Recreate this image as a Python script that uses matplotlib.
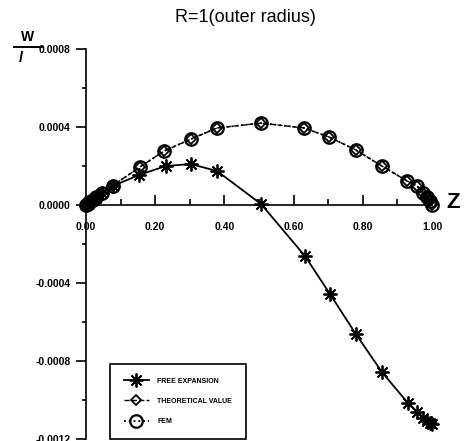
import numpy as np
import matplotlib.pyplot as plt
from matplotlib.lines import Line2D

plt.rcParams['font.family'] = ['Liberation Sans', 'DejaVu Sans']

# free expansion
z_free = [0, 0.005, 0.01, 0.02, 0.03, 0.046, 0.078, 0.153, 0.231, 0.303, 0.379,
          0.506, 0.633, 0.705, 0.780, 0.855, 0.930, 0.957, 0.975, 0.986, 0.993, 1.0]
w_free = [0, 0.000006, 0.000012, 0.000024, 0.000036, 0.000062, 0.0000975, 0.000154,
          0.0002, 0.00021, 0.000174, 0.000005, -0.000262, -0.000456, -0.000662,
          -0.000856, -0.001015, -0.00106, -0.00109, -0.00111, -0.001118, -0.001123]

# theoretical value
z_theory = [0, 0.005, 0.01, 0.02, 0.03, 0.045, 0.078, 0.156, 0.226, 0.303, 0.379,
            0.506, 0.630, 0.702, 0.780, 0.855, 0.928, 0.957, 0.975, 0.985, 0.993, 1.0]
w_theory = [0, 0.000006, 0.000013, 0.000026, 0.00004, 0.00006, 0.0001, 0.000195,
            0.000277, 0.000338, 0.000395, 0.00042, 0.000395, 0.000349, 0.000282,
            0.0002, 0.000123, 0.0000975, 0.00006, 0.00004, 0.00002, 0.0]

# FEM
z_fem = [0, 0.005, 0.01, 0.02, 0.03, 0.045, 0.078, 0.156, 0.226, 0.303, 0.379,
         0.506, 0.630, 0.702, 0.780, 0.855, 0.928, 0.957, 0.975, 0.985, 0.993, 1.0]
w_fem = [0, 0.000006, 0.000013, 0.000026, 0.00004, 0.00006, 0.0001, 0.000195,
         0.000277, 0.000338, 0.000395, 0.00042, 0.000395, 0.000349, 0.000282,
         0.0002, 0.000123, 0.0000975, 0.00006, 0.00004, 0.00002, 0.0]

x_ticks = [0.0, 0.2, 0.4, 0.6, 0.8, 1.0]
x_labels = ['0.00', '0.20', '0.40', '0.60', '0.80', '1.00']
y_ticks = [0.0008, 0.0004, 0.0, -0.0004, -0.0008, -0.0012]
y_labels = ['0.0008', '0.0004', '0.0000', '-0.0004', '-0.0008', '-0.0012']

fig = plt.figure(figsize=(4.65, 4.41), dpi=100)
ax = fig.add_axes([86/465, 1 - 439/441, 346/465, 390/441])

ax.plot(z_free, w_free, '-', color='black', lw=1.3, marker=(8, 2, 0),
        ms=10, mew=1.3, clip_on=False, label='FREE EXPANSION')
ax.plot(z_theory, w_theory, '--', color='black', lw=1.0, marker='D', ms=5,
        mfc='none', mew=1.3, clip_on=False, label='THEORETICAL VALUE')
ax.plot(z_fem, w_fem, ':', color='black', lw=1.3, marker='o', ms=9,
        mfc='none', mew=1.6, clip_on=False, label='FEM')

ax.set_xlim(0, 1.0)
ax.set_ylim(-0.0012, 0.0008)

ax.spines['top'].set_visible(False)
ax.spines['right'].set_visible(False)
ax.spines['bottom'].set_position(('data', 0))
ax.spines['left'].set_linewidth(1.2)
ax.spines['bottom'].set_linewidth(1.2)

ax.set_xticks(x_ticks)
ax.set_xticklabels(x_labels)
ax.set_xticks(np.arange(0.1, 1.0, 0.2), minor=True)
ax.set_yticks(y_ticks)
ax.set_yticklabels(y_labels)
ax.set_yticks(np.arange(-0.001, 0.0008, 0.0004), minor=True)

ax.tick_params(axis='x', which='major', direction='in', length=7, width=1.2, pad=12)
ax.tick_params(axis='x', which='minor', direction='in', length=4, width=1.2)
ax.tick_params(axis='y', which='major', direction='out', length=7, width=1.2, pad=4)
ax.tick_params(axis='y', which='minor', direction='out', length=3, width=1.2)
for lab in ax.get_xticklabels() + ax.get_yticklabels():
    lab.set_fontsize(7.5)
    lab.set_fontweight('bold')

fig.text(245/465, 1 - 17/441, 'R=1(outer radius)', ha='center', va='center', fontsize=13)
fig.text(453/465, 1 - 203/441, 'Z', ha='center', va='center', fontsize=16, fontweight='bold')

# w / l label
fig.text(28/465, 1 - 37/441, 'W', ha='center', va='center', fontsize=10, fontweight='bold')
fig.add_artist(Line2D([14/465, 42/465], [1 - 47/441, 1 - 47/441], color='black', lw=1.4,
                      transform=fig.transFigure))
fig.text(21/465, 1 - 58/441, 'l', ha='center', va='center', fontsize=10,
         fontweight='bold', style='italic')

leg = ax.legend(loc='lower left', bbox_to_anchor=(0.069, 0.0), borderaxespad=0,
                fancybox=False, edgecolor='black', framealpha=1,
                prop={'size': 5, 'weight': 'bold'}, handlelength=3.6,
                handletextpad=1.2, labelspacing=1.9, borderpad=2.0)
leg.get_frame().set_linewidth(1.2)

fig.savefig('out.png', dpi=100)
